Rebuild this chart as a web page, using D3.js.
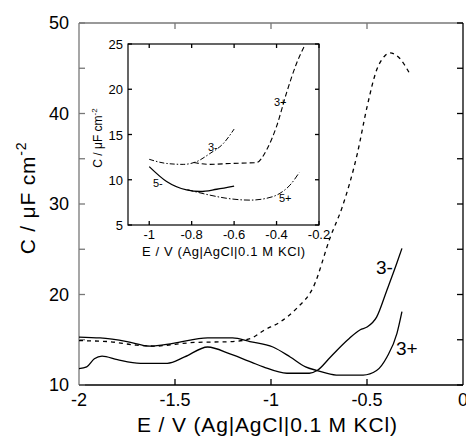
<!DOCTYPE html>
<html>
<head>
<meta charset="utf-8">
<script src="https://cdn.jsdelivr.net/npm/d3@7"></script>
<style>
  body { margin: 0; background: #fff; }
  svg { font-family: "Liberation Sans", Arial, sans-serif; }
</style>
</head>
<body>
<svg id="chart" width="466" height="436"></svg>
<script>
// main plot data: [E, C]
const mainDashed = [
  [-2.0, 14.9], [-1.85, 14.8], [-1.7, 14.4], [-1.6, 14.3], [-1.5, 14.5], [-1.4, 14.7],
  [-1.2, 14.8], [-1.1, 15.2], [-1.04, 16.0], [-0.95, 17.0], [-0.865, 18.5], [-0.78, 20.8],
  [-0.69, 26.4], [-0.63, 29.6], [-0.55, 35.6], [-0.5, 40.7], [-0.45, 44.8], [-0.41, 46.3],
  [-0.38, 46.7], [-0.33, 46.1], [-0.28, 44.5]
];
const mainMinus = [
  [-2.0, 11.8], [-1.96, 12.0], [-1.92, 12.9], [-1.88, 13.2], [-1.8, 12.8], [-1.68, 12.4],
  [-1.54, 12.4], [-1.45, 13.1], [-1.33, 14.2], [-1.21, 13.4], [-1.1, 12.5], [-1.04, 12.0],
  [-0.917, 11.3], [-0.8, 11.3], [-0.76, 11.6], [-0.69, 13.1], [-0.6, 15.0], [-0.535, 16.1],
  [-0.5, 16.4], [-0.45, 17.5], [-0.396, 20.5], [-0.344, 23.5], [-0.318, 25.1]
];
const mainPlus = [
  [-2.0, 15.3], [-1.89, 15.2], [-1.75, 14.8], [-1.63, 14.3], [-1.51, 14.6], [-1.33, 15.2],
  [-1.2, 15.2], [-1.11, 14.8], [-0.99, 14.2], [-0.9, 13.1], [-0.82, 12.0], [-0.76, 11.6],
  [-0.66, 11.1], [-0.52, 11.1], [-0.45, 11.6], [-0.396, 13.1], [-0.344, 15.7], [-0.318, 18.1]
];

// inset data
const inset3Minus = [
  [-1.0, 12.26], [-0.918, 11.8], [-0.84, 11.7], [-0.777, 12.0], [-0.714, 12.9],
  [-0.651, 14.0], [-0.6, 15.6]
];
const inset3Plus = [
  [-0.79, 11.9], [-0.714, 11.7], [-0.62, 11.8], [-0.494, 11.9], [-0.447, 13.3],
  [-0.4, 15.9], [-0.353, 19.6], [-0.305, 22.9], [-0.266, 24.9]
];
const inset5Minus = [
  [-1.0, 11.45], [-0.918, 9.8], [-0.824, 8.87], [-0.76, 8.7], [-0.682, 8.95], [-0.6, 9.3]
];
const inset5Plus = [
  [-0.82, 8.9], [-0.714, 8.3], [-0.635, 7.95], [-0.525, 7.75], [-0.447, 7.95],
  [-0.384, 8.5], [-0.337, 9.4], [-0.293, 10.8]
];

const mainXTicks = [-2, -1.5, -1, -0.5, 0];
const mainYTicks = [10, 20, 30, 40, 50];
const mainYMinor = [10, 15, 20, 25, 30, 35, 40, 45, 50];
const insetXTicks = [-1, -0.8, -0.6, -0.4, -0.2];
const insetYTicks = [5, 10, 15, 20, 25];

const svg = d3.select("#chart");

const main = { left: 79, right: 463, top: 23, bottom: 385 };
const x = d3.scaleLinear().domain([-2, 0]).range([main.left, main.right]);
const y = d3.scaleLinear().domain([10, 50]).range([main.bottom, main.top]);

// frame lines + inward ticks
const tickLen = 6;
function frameSide(g, x1, y1, x2, y2, color) {
  g.append("line").attr("x1", x1).attr("y1", y1).attr("x2", x2).attr("y2", y2)
    .attr("stroke", color).attr("stroke-width", 1.3);
}
const frame = svg.append("g");
frameSide(frame, main.left, main.top, main.right, main.top, "#777");
frameSide(frame, main.left, main.top, main.left, main.bottom, "#777");
frameSide(frame, main.left, main.bottom, main.right, main.bottom, "#000");
frameSide(frame, main.right, main.top, main.right, main.bottom, "#000");

mainYMinor.forEach(v => {
  frameSide(frame, main.left, y(v), main.left + tickLen, y(v), "#777");
  frameSide(frame, main.right, y(v), main.right - tickLen, y(v), "#000");
});
mainXTicks.slice(1, -1).forEach(v => {
  frameSide(frame, x(v), main.top, x(v), main.top + tickLen, "#777");
  frameSide(frame, x(v), main.bottom, x(v), main.bottom - tickLen, "#000");
});

svg.append("g").selectAll("text").data(mainYTicks).join("text")
  .attr("x", main.left - 10).attr("y", d => y(d) + 6)
  .attr("text-anchor", "end").attr("font-size", 18).text(d => d);

svg.append("g").selectAll("text").data(mainXTicks).join("text")
  .attr("x", d => x(d)).attr("y", main.bottom + 21)
  .attr("text-anchor", "middle").attr("font-size", 18).text(d => d);

svg.append("text").attr("x", 137).attr("y", 432)
  .attr("font-size", 21).attr("textLength", 260).attr("lengthAdjust", "spacing")
  .text("E / V (Ag|AgCl|0.1 M KCl)");

const yTitle = svg.append("text")
  .attr("transform", "translate(35,198) rotate(-90)")
  .attr("text-anchor", "middle").attr("font-size", 21).attr("letter-spacing", 0.8);
yTitle.append("tspan").text("C / μF cm");
yTitle.append("tspan").attr("font-size", 14).attr("dy", -9).text("-2");

const line = d3.line().x(d => x(d[0])).y(d => y(d[1])).curve(d3.curveMonotoneX);

svg.append("path").datum(mainDashed).attr("d", line).attr("fill", "none")
  .attr("stroke", "#000").attr("stroke-width", 1.3).attr("stroke-dasharray", "4,4");
svg.append("path").datum(mainMinus).attr("d", line).attr("fill", "none")
  .attr("stroke", "#000").attr("stroke-width", 1.3);
svg.append("path").datum(mainPlus).attr("d", line).attr("fill", "none")
  .attr("stroke", "#000").attr("stroke-width", 1.3);

svg.append("text").attr("x", 376).attr("y", 274).attr("font-size", 19).text("3-");
svg.append("text").attr("x", 396).attr("y", 355).attr("font-size", 19).text("3+");

// inset
const inset = { left: 128, right: 319, top: 44, bottom: 225 };
const ix = d3.scaleLinear().domain([-1.1, -0.2]).range([inset.left, inset.right]);
const iy = d3.scaleLinear().domain([5, 25]).range([inset.bottom, inset.top]);

const ig = svg.append("g");
ig.append("rect").attr("x", inset.left).attr("y", inset.top)
  .attr("width", inset.right - inset.left).attr("height", inset.bottom - inset.top)
  .attr("fill", "#fff").attr("stroke", "#000").attr("stroke-width", 1.2);

const iTick = 4;
insetYTicks.forEach(v => {
  frameSide(ig, inset.left, iy(v), inset.left + iTick, iy(v), "#000");
  frameSide(ig, inset.right, iy(v), inset.right - iTick, iy(v), "#000");
});
insetXTicks.forEach(v => {
  frameSide(ig, ix(v), inset.top, ix(v), inset.top + iTick, "#000");
  frameSide(ig, ix(v), inset.bottom, ix(v), inset.bottom - iTick, "#000");
});

ig.append("g").selectAll("text").data(insetYTicks).join("text")
  .attr("x", inset.left - 5).attr("y", d => iy(d) + 5)
  .attr("text-anchor", "end").attr("font-size", 13).text(d => d);
ig.append("g").selectAll("text").data(insetXTicks).join("text")
  .attr("x", d => ix(d)).attr("y", inset.bottom + 14)
  .attr("text-anchor", "middle").attr("font-size", 13).text(d => d);

ig.append("text").attr("x", 142).attr("y", 256)
  .attr("font-size", 13).attr("textLength", 163).attr("lengthAdjust", "spacing")
  .text("E / V (Ag|AgCl|0.1 M KCl)");

const iyTitle = ig.append("text")
  .attr("transform", "translate(102,138) rotate(-90)")
  .attr("text-anchor", "middle").attr("font-size", 12);
iyTitle.append("tspan").text("C / μF cm");
iyTitle.append("tspan").attr("font-size", 8).attr("dy", -5).text("-2");

const iline = d3.line().x(d => ix(d[0])).y(d => iy(d[1])).curve(d3.curveMonotoneX);

ig.append("path").datum(inset3Minus).attr("d", iline).attr("fill", "none")
  .attr("stroke", "#000").attr("stroke-width", 1).attr("stroke-dasharray", "5,2,1.5,2");
ig.append("path").datum(inset3Plus).attr("d", iline).attr("fill", "none")
  .attr("stroke", "#000").attr("stroke-width", 1.1).attr("stroke-dasharray", "5,3");
ig.append("path").datum(inset5Minus).attr("d", iline).attr("fill", "none")
  .attr("stroke", "#000").attr("stroke-width", 1.3);
ig.append("path").datum(inset5Plus).attr("d", iline).attr("fill", "none")
  .attr("stroke", "#000").attr("stroke-width", 1).attr("stroke-dasharray", "6,2,1.5,2");

ig.append("text").attr("x", 208).attr("y", 151).attr("font-size", 11).text("3-");
ig.append("text").attr("x", 274).attr("y", 106).attr("font-size", 11).text("3+");
ig.append("text").attr("x", 153).attr("y", 187).attr("font-size", 11).text("5-");
ig.append("text").attr("x", 279).attr("y", 202).attr("font-size", 11).text("5+");
</script>
</body>
</html>
